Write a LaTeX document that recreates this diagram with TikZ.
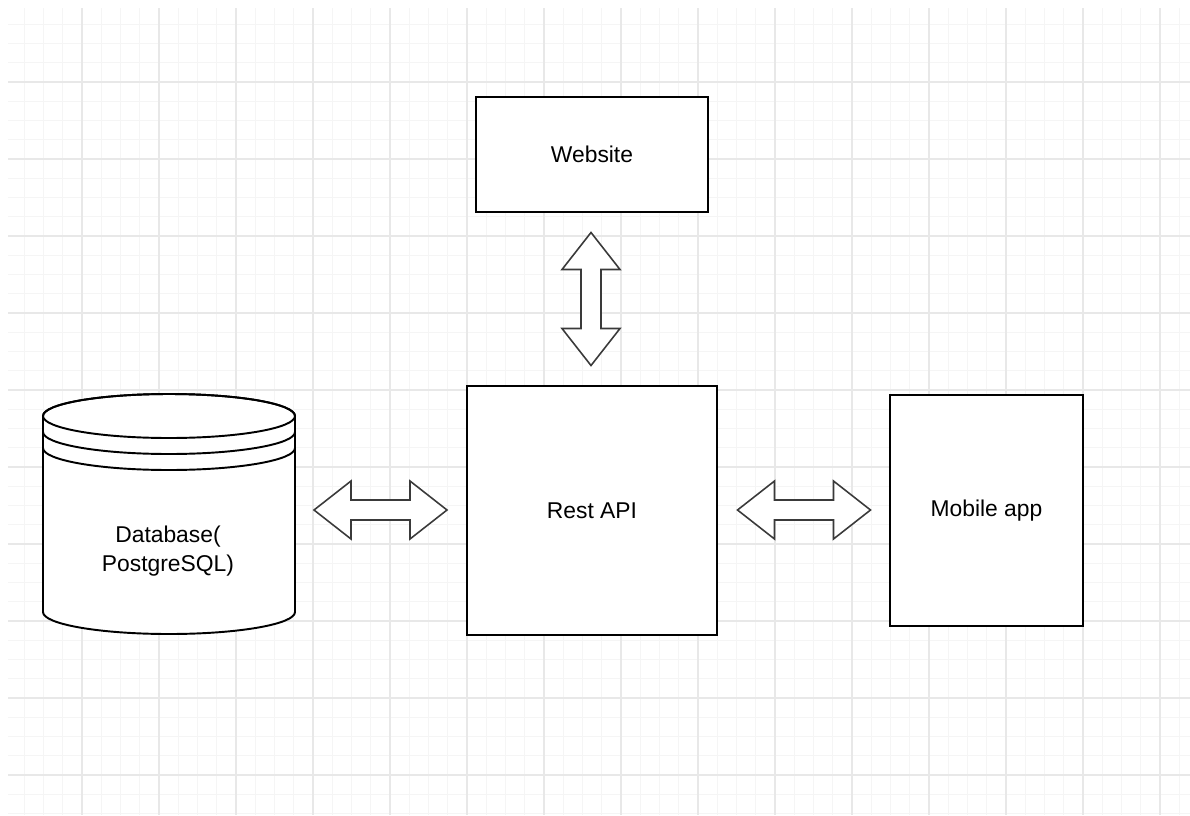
\documentclass[tikz,border=0pt]{standalone}
\usepackage{fontspec}
\setmainfont{Liberation Sans}
\usetikzlibrary{positioning}

\definecolor{minorgrid}{HTML}{F5F5F5}
\definecolor{majorgrid}{HTML}{E8E8E8}
\definecolor{arrowline}{HTML}{3A3A3A}

\tikzset{
  box/.style={draw=black, fill=white, line width=1.1pt, inner sep=0pt,
              font=\fontsize{13}{16}\selectfont, align=center},
  blockarrow/.style={draw=arrowline, fill=white, line width=0.9pt, line join=miter},
  minorline/.style={draw=minorgrid, line width=0.5pt},
  majorline/.style={draw=majorgrid, line width=0.7pt},
  dblarrow/.pic={
    \draw[blockarrow] (-66.5,0) -- (-29.5,-29) -- (-29.5,-10) -- (29.5,-10)
      -- (29.5,-29) -- (66.5,0) -- (29.5,29) -- (29.5,10) -- (-29.5,10)
      -- (-29.5,29) -- cycle;
  }
}

\begin{document}
\begin{tikzpicture}[x=0.02cm, y=-0.02cm]
\useasboundingbox (0,0) rectangle (1190,815);

% grid paper
\begin{scope}
  \clip (8,8) rectangle (1190,815);
  \foreach \k in {0,...,61}
    \draw[minorline] ({5+19.25*\k},8) -- ({5+19.25*\k},815);
  \foreach \k in {0,...,42}
    \draw[minorline] (8,{5+19.25*\k}) -- (1190,{5+19.25*\k});
  \foreach \k in {1,...,15}
    \draw[majorline] ({5+77*\k},8) -- ({5+77*\k},815);
  \foreach \k in {1,...,10}
    \draw[majorline] (8,{5+77*\k}) -- (1190,{5+77*\k});
\end{scope}

% boxes
\node[box, minimum width=4.64cm, minimum height=2.3cm] (website) at (592,154.5) {Website};
\node[box, minimum width=5cm, minimum height=4.98cm] (restapi) at (592,510.5) {Rest API};
\node[box, minimum width=3.86cm, minimum height=4.62cm] (mobile) at (986.5,510.5) {Mobile app};

% database cylinder
\draw[line width=1.1pt, fill=white]
  (43,416) -- (43,612) arc[start angle=180, end angle=0, x radius=126, y radius=22]
  -- (295,416) arc[start angle=0, end angle=-180, x radius=126, y radius=22] -- cycle;
\draw[line width=1.1pt] (169,416) ellipse[x radius=126, y radius=22];
\draw[line width=1.1pt] (43,432) arc[start angle=180, end angle=0, x radius=126, y radius=22];
\draw[line width=1.1pt] (43,448) arc[start angle=180, end angle=0, x radius=126, y radius=22];
\node[font=\fontsize{13}{16.8}\selectfont, align=center] (db) at (168,551) {Database(\\PostgreSQL)};

% block arrows
\coordinate (upper) at (591,299);
\coordinate (left) at (380.5,510);
\coordinate (right) at (804,510);
\pic at (upper) [rotate=90] {dblarrow};
\pic at (left) {dblarrow};
\pic at (right) {dblarrow};

\end{tikzpicture}
\end{document}
